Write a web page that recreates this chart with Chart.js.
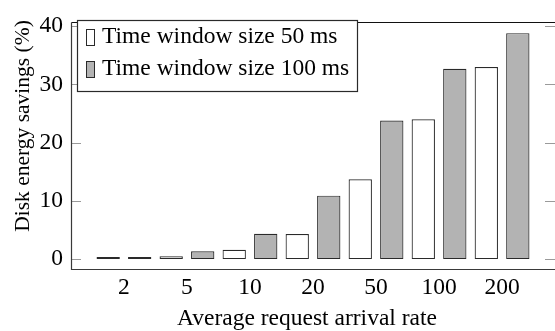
<!DOCTYPE html>
<html>
<head>
<meta charset="utf-8">
<script src="https://cdn.jsdelivr.net/npm/chart.js@4"></script>
<style>
  html, body { margin: 0; padding: 0; background: #ffffff; }
  #wrap { width: 555px; height: 331px; }
</style>
</head>
<body>
<div id="wrap"><canvas id="chart" width="555" height="331"></canvas></div>
<script>
// Average request arrival rates (x categories)
const categories = ['2', '5', '10', '20', '50', '100', '200'];
// Disk energy savings (%) per time window size
const savings50ms = [0.1, 0.5, 1.6, 4.3, 13.7, 24.0, 33.0];
const savings100ms = [0.25, 1.35, 4.35, 10.9, 23.8, 32.7, 38.8];
const seriesLabels = ['Time window size 50 ms', 'Time window size 100 ms'];
const yTicks = [0, 10, 20, 30, 40];
const xTitle = 'Average request arrival rate';
const yTitle = 'Disk energy savings (%)';

const FONT = '"Liberation Serif", "DejaVu Serif", serif';
const INK = '#2a2a2a';

function toPoints(values) {
  return categories.map((c, i) => ({ x: i, y: values[i] }));
}

// Frame, inner tick marks, axis titles and the boxed legend
const decorations = {
  id: 'decorations',
  beforeDatasetsDraw(chart) {
    const { ctx, chartArea: a, scales } = chart;
    ctx.save();
    ctx.strokeStyle = '#9a9a9a';
    ctx.lineWidth = 1.2;
    yTicks.forEach(v => {
      const y = Math.round(scales.y.getPixelForValue(v)) + 0.5;
      ctx.beginPath();
      ctx.moveTo(a.left, y); ctx.lineTo(a.left + 10, y);
      ctx.moveTo(a.right - 10, y); ctx.lineTo(a.right, y);
      ctx.stroke();
    });
    ctx.restore();
  },
  afterDatasetsDraw(chart) {
    const { ctx, chartArea: a } = chart;
    ctx.save();
    // plot frame (the right edge sits on the canvas border)
    const l = Math.round(a.left) + 0.5, t = Math.round(a.top) + 0.5;
    const b = Math.round(a.bottom) + 0.5, r = a.right + 2;
    ctx.lineWidth = 1.2;
    ctx.strokeStyle = '#111';
    ctx.beginPath(); ctx.moveTo(l, t); ctx.lineTo(r, t); ctx.stroke();
    ctx.strokeStyle = '#3a3a3a';
    ctx.beginPath(); ctx.moveTo(l, t); ctx.lineTo(l, b); ctx.lineTo(r, b); ctx.stroke();

    // y axis title
    ctx.fillStyle = '#000';
    ctx.font = '21.5px ' + FONT;
    ctx.save();
    ctx.translate(28.5, 126);
    ctx.rotate(-Math.PI / 2);
    ctx.textAlign = 'center';
    ctx.textBaseline = 'alphabetic';
    ctx.fillText(yTitle, 0, 0);
    ctx.restore();

    // x axis title
    ctx.font = '23.5px ' + FONT;
    ctx.textAlign = 'center';
    ctx.textBaseline = 'alphabetic';
    ctx.fillText(xTitle, 307, 325);

    // legend
    const bx = 77, by = 20, bw = 280, bh = 71;
    ctx.fillStyle = '#fff';
    ctx.fillRect(bx, by, bw, bh);
    ctx.strokeStyle = INK;
    ctx.lineWidth = 1.2;
    ctx.strokeRect(bx + 0.5, by + 0.5, bw, bh);
    const baselines = [43, 75];
    chart.data.datasets.forEach((ds, i) => {
      const base = baselines[i];
      ctx.fillStyle = ds.backgroundColor;
      ctx.fillRect(86, base - 14, 8, 16);
      ctx.strokeStyle = ds.borderColor;
      ctx.lineWidth = 1;
      ctx.strokeRect(86.5, base - 13.5, 8, 16);
      ctx.fillStyle = '#000';
      ctx.textAlign = 'left';
      ctx.fillText(ds.label, 102, base);
    });
    ctx.restore();
  }
};

new Chart(document.getElementById('chart'), {
  type: 'bar',
  data: {
    datasets: [
      {
        label: seriesLabels[0],
        data: toPoints(savings50ms),
        backgroundColor: '#ffffff',
        borderColor: INK,
        borderWidth: 1.2,
        borderSkipped: false,
        minBarLength: 2
      },
      {
        label: seriesLabels[1],
        data: toPoints(savings100ms),
        backgroundColor: '#b3b3b3',
        borderColor: INK,
        borderWidth: 1.2,
        borderSkipped: false,
        minBarLength: 2
      }
    ]
  },
  options: {
    responsive: false,
    devicePixelRatio: 1,
    animation: false,
    events: [],
    layout: { padding: { top: 12, right: 0, left: 0, bottom: 0 } },
    datasets: {
      bar: { categoryPercentage: 1.0, barPercentage: 0.74 }
    },
    plugins: {
      legend: { display: false },
      tooltip: { enabled: false }
    },
    scales: {
      x: {
        type: 'linear',
        min: -0.84,
        max: 6.84,
        offset: false,
        grid: { display: false, drawTicks: false },
        border: { display: false },
        afterBuildTicks(scale) {
          scale.ticks = categories.map((c, i) => ({ value: i }));
        },
        afterFit(scale) { scale.height = 62; },
        ticks: {
          padding: 5,
          color: '#000',
          font: { family: FONT, size: 23.5 },
          maxRotation: 0,
          autoSkip: false,
          callback: (v) => categories[v]
        }
      },
      y: {
        min: -1.7,
        max: 40.7,
        grid: { display: false, drawTicks: false },
        border: { display: false },
        afterBuildTicks(scale) {
          scale.ticks = yTicks.map(v => ({ value: v }));
        },
        afterFit(scale) { scale.width = 71; },
        ticks: {
          padding: 8,
          color: '#000',
          font: { family: FONT, size: 23.5 }
        }
      }
    }
  },
  plugins: [decorations]
});
</script>
</body>
</html>
